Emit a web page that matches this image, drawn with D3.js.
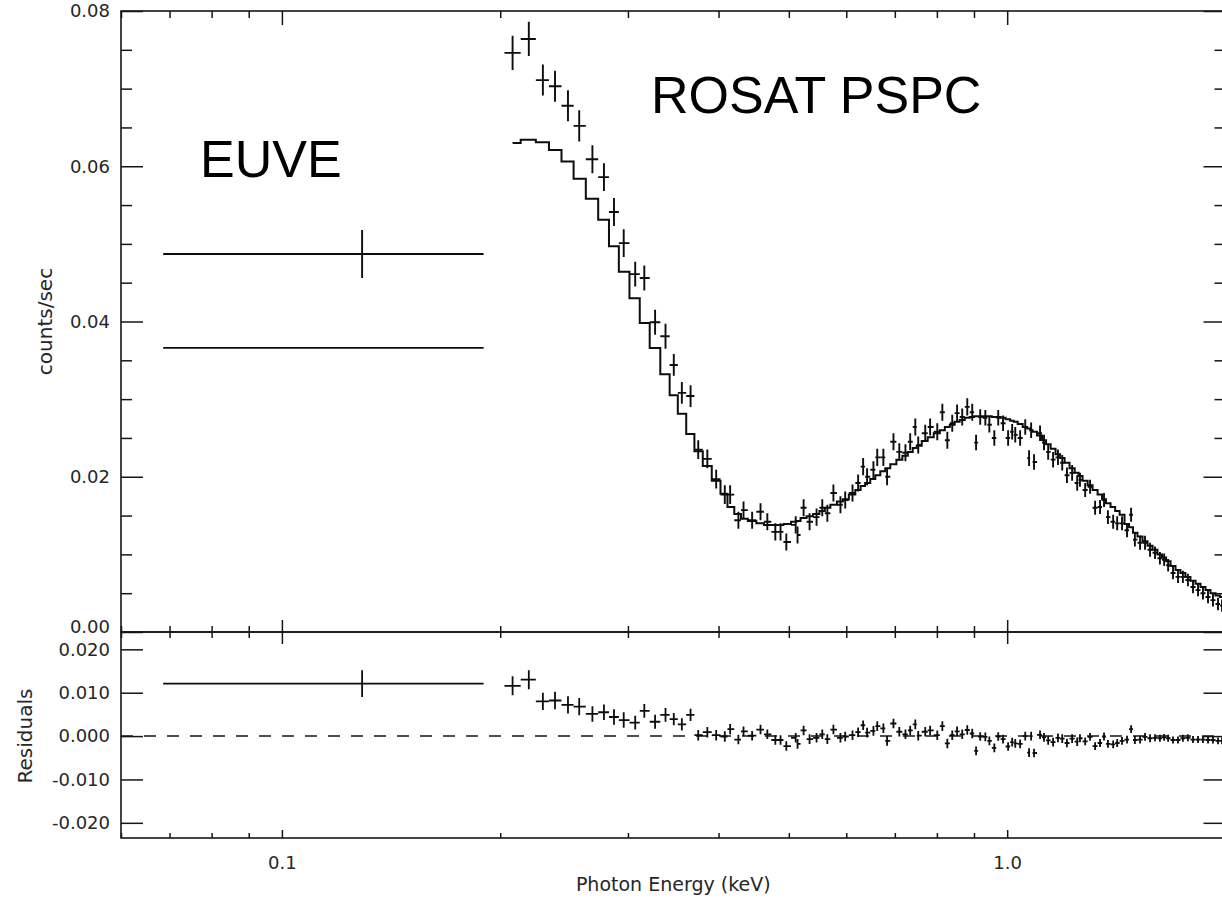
<!DOCTYPE html>
<html>
<head>
<meta charset="utf-8">
<script src="https://cdn.jsdelivr.net/npm/d3@7"></script>
<style>
  html, body { margin: 0; padding: 0; background: #fff; }
  svg { display: block; }
</style>
</head>
<body>
<svg id="chart" width="1222" height="901"></svg>
<script>
/* EUVE: one broad band */
var euveEnergy = [0.129];
var euveLo = [0.0686];
var euveHi = [0.1897];
var euveCounts = [0.0487];
var euveErr = [0.0031];
var euveModel = [0.0366];

/* ROSAT PSPC spectrum (keV, counts/sec) */
var rosatEnergy = [0.208,0.219,0.229,0.238,0.248,0.257,0.268,0.278,0.287,0.296,
  0.307,0.316,0.327,0.338,0.347,0.356,0.366,0.375,0.386,0.397,
  0.408,0.415,0.426,0.433,0.445,0.457,0.467,0.479,0.487,0.496,
  0.511,0.514,0.524,0.534,0.546,0.556,0.565,0.576,0.589,0.598,
  0.612,0.623,0.633,0.641,0.654,0.662,0.675,0.683,0.697,0.710,
  0.724,0.735,0.747,0.754,0.771,0.783,0.801,0.814,0.827,0.840,
  0.853,0.867,0.881,0.895,0.906,0.918,0.933,0.945,0.960,0.972,
  0.987,1.003,1.016,1.026,1.042,1.059,1.072,1.079,1.089,1.110,
  1.124,1.139,1.157,1.175,1.191,1.209,1.229,1.249,1.260,1.281,
  1.301,1.322,1.343,1.360,1.377,1.400,1.418,1.440,1.463,1.482,
  1.500,1.525,1.549,1.574,1.599,1.624,1.646,1.667,1.693,1.720,
  1.747,1.775,1.804,1.833,1.862,1.892,1.922,1.953,1.978];

var rosatCounts = [0.0746,0.0764,0.0711,0.0703,0.0678,0.0652,0.0609,0.0586,0.0541,0.0501,
  0.0461,0.0456,0.0399,0.0381,0.0344,0.0308,0.0304,0.0235,0.0223,0.0197,
  0.0177,0.0177,0.0144,0.0157,0.0144,0.0155,0.0142,0.0129,0.0129,0.0116,
  0.0138,0.0125,0.0160,0.0142,0.0148,0.0160,0.0153,0.0179,0.0164,0.0170,
  0.0179,0.0192,0.0213,0.0200,0.0209,0.0225,0.0225,0.0200,0.0245,0.0232,
  0.0231,0.0245,0.0264,0.0241,0.0256,0.0264,0.0258,0.0283,0.0247,0.0269,
  0.0282,0.0277,0.0290,0.0283,0.0244,0.0277,0.0276,0.0267,0.0250,0.0276,
  0.0269,0.0250,0.0258,0.0254,0.0250,0.0264,0.0224,0.0260,0.0219,0.0256,
  0.0244,0.0232,0.0222,0.0225,0.0218,0.0202,0.0205,0.0192,0.0196,0.0183,
  0.0187,0.0160,0.0161,0.0170,0.0148,0.0142,0.0140,0.0140,0.0131,0.0151,
  0.0119,0.0115,0.0115,0.0106,0.0102,0.0095,0.0093,0.0086,0.0076,0.0071,
  0.0071,0.0067,0.0058,0.0054,0.0050,0.0045,0.0041,0.0036,0.0034];

var rosatErr = [0.0022,0.0022,0.0020,0.0020,0.0020,0.0020,0.0018,0.0018,0.0018,0.0018,
  0.0016,0.0016,0.0016,0.0016,0.0014,0.0014,0.0014,0.0012,0.0012,0.0012,
  0.0012,0.0012,0.0011,0.0011,0.0011,0.0011,0.0011,0.0011,0.0011,0.0011,
  0.0011,0.0011,0.0011,0.0011,0.0011,0.0011,0.0011,0.0011,0.0011,0.0011,
  0.0011,0.0011,0.0011,0.0011,0.0011,0.0011,0.0011,0.0011,0.0011,0.0011,
  0.0011,0.0011,0.0011,0.0011,0.0011,0.0011,0.0011,0.0011,0.0011,0.0011,
  0.0011,0.0011,0.0011,0.0011,0.0010,0.0010,0.0010,0.0010,0.0010,0.0010,
  0.0010,0.0010,0.0010,0.0010,0.0010,0.0010,0.0010,0.0010,0.0010,0.0010,
  0.0010,0.0010,0.0010,0.0010,0.0010,0.0010,0.0010,0.0010,0.0009,0.0009,
  0.0009,0.0009,0.0009,0.0009,0.0009,0.0009,0.0009,0.0009,0.0009,0.0009,
  0.0009,0.0009,0.0009,0.0009,0.0008,0.0008,0.0008,0.0008,0.0008,0.0008,
  0.0008,0.0008,0.0008,0.0008,0.0008,0.0008,0.0008,0.0008,0.0008];

var rosatModel = [0.0630,0.0634,0.0631,0.0621,0.0606,0.0584,0.0558,0.0531,0.0497,0.0464,
  0.0430,0.0398,0.0366,0.0332,0.0305,0.0281,0.0255,0.0233,0.0214,0.0195,
  0.0178,0.0161,0.0152,0.0146,0.0143,0.0140,0.0138,0.0138,0.0138,0.0139,
  0.0142,0.0143,0.0147,0.0149,0.0152,0.0156,0.0160,0.0164,0.0168,0.0171,
  0.0177,0.0183,0.0188,0.0192,0.0197,0.0202,0.0207,0.0211,0.0216,0.0222,
  0.0227,0.0232,0.0237,0.0240,0.0246,0.0251,0.0256,0.0260,0.0264,0.0267,
  0.0271,0.0273,0.0276,0.0277,0.0278,0.0278,0.0278,0.0278,0.0277,0.0277,
  0.0276,0.0274,0.0272,0.0271,0.0268,0.0264,0.0262,0.0260,0.0258,0.0253,
  0.0247,0.0242,0.0236,0.0229,0.0224,0.0218,0.0211,0.0205,0.0201,0.0195,
  0.0189,0.0183,0.0177,0.0171,0.0166,0.0161,0.0156,0.0151,0.0139,0.0135,
  0.0128,0.0123,0.0117,0.0111,0.0106,0.0100,0.0096,0.0091,0.0085,0.0080,
  0.0076,0.0071,0.0066,0.0062,0.0058,0.0054,0.0050,0.0047,0.0045];

var countTicks = [0, 0.02, 0.04, 0.06, 0.08];
var residTicks = [-0.02, -0.01, 0, 0.01, 0.02];
var energyTicks = [0.1, 1.0];

var W = 1222, H = 901;
var plotLeft = 121, plotRight = 1225.5;
var topY = 11, midY = 632, botY = 838;
var INK = "#161616";
var TICK_FONT = "'DejaVu Sans', Verdana, sans-serif";
var NOTE_FONT = "'Liberation Sans', Arial, Helvetica, sans-serif";

var x = d3.scaleLog().domain([0.06, 2.0]).range([plotLeft, plotRight]);
var yTop = d3.scaleLinear().domain([0, 0.08]).range([midY, topY]);
var yRes = d3.scaleLinear().domain([-0.0235, 0.024]).range([botY, midY]);

var svg = d3.select("#chart");
svg.append("rect").attr("width", W).attr("height", H).attr("fill", "#fff");

// contiguous PSPC channels: each bin reaches halfway (in log) to its neighbours
var rosat = rosatEnergy.map(function (e, i) {
  return { e: e, c: rosatCounts[i], err: rosatErr[i], m: rosatModel[i] };
});
rosat.forEach(function (d, i) {
  var prev = rosat[i - 1], next = rosat[i + 1];
  d.hi = next ? Math.sqrt(d.e * next.e) : d.e * d.e / Math.sqrt(d.e * prev.e);
  d.lo = prev ? Math.sqrt(d.e * prev.e) : d.e * d.e / Math.sqrt(d.e * next.e);
});

var euve = euveEnergy.map(function (e, i) {
  return { e: e, lo: euveLo[i], hi: euveHi[i], c: euveCounts[i], err: euveErr[i], m: euveModel[i] };
});

function dressAxis(g) {
  g.select(".domain").remove();
  g.attr("color", INK);
  g.selectAll(".tick line").attr("stroke-width", 1.5);
  g.selectAll(".tick text")
    .attr("font-family", TICK_FONT)
    .attr("font-size", 18)
    .attr("fill", "#262626");
}

function addAxis(axis, tx, ty) {
  return svg.append("g")
    .attr("transform", "translate(" + tx + "," + ty + ")")
    .call(axis)
    .call(dressAxis);
}

var countMinor = d3.range(0.005, 0.0801, 0.005).filter(function (v) {
  return Math.abs(v / 0.02 - Math.round(v / 0.02)) > 1e-6;
});
var energyMinor = x.ticks().filter(function (v) {
  return !energyTicks.some(function (t) { return Math.abs(t - v) < 1e-9; });
});
var dashFix = function (v) { return d3.format(".3f")(v).replace("\u2212", "-"); };

// y axes, top panel
var leftTop = addAxis(d3.axisLeft(yTop).tickValues(countTicks).tickSize(-22).tickPadding(11)
  .tickFormat(d3.format(".2f")), plotLeft, 0);
leftTop.selectAll(".tick text").filter(function (d) { return d === 0; }).attr("y", -5);
addAxis(d3.axisLeft(yTop).tickValues(countMinor).tickSize(-11).tickFormat(""), plotLeft, 0);
addAxis(d3.axisRight(yTop).tickValues(countTicks).tickSize(-22).tickFormat(""), plotRight, 0);
addAxis(d3.axisRight(yTop).tickValues(countMinor).tickSize(-11).tickFormat(""), plotRight, 0);

// y axes, residual panel
addAxis(d3.axisLeft(yRes).tickValues(residTicks).tickSize(-22).tickPadding(11)
  .tickFormat(dashFix), plotLeft, 0);
addAxis(d3.axisRight(yRes).tickValues(residTicks).tickSize(-22).tickFormat(""), plotRight, 0);

// x axes: top edge, shared edge, bottom edge
addAxis(d3.axisTop(x).tickValues(energyTicks).tickSize(-14).tickFormat(""), 0, topY);
addAxis(d3.axisTop(x).tickValues(energyMinor).tickSize(-7).tickFormat(""), 0, topY);
addAxis(d3.axisBottom(x).tickValues(energyTicks).tickSize(-12).tickFormat(""), 0, midY);
addAxis(d3.axisBottom(x).tickValues(energyMinor).tickSize(-6).tickFormat(""), 0, midY);
addAxis(d3.axisTop(x).tickValues(energyTicks).tickSize(-12).tickFormat(""), 0, midY);
addAxis(d3.axisTop(x).tickValues(energyMinor).tickSize(-6).tickFormat(""), 0, midY);
addAxis(d3.axisBottom(x).tickValues(energyTicks).tickSize(-8).tickPadding(18)
  .tickFormat(d3.format(".1f")), 0, botY);
addAxis(d3.axisBottom(x).tickValues(energyMinor).tickSize(-5).tickFormat(""), 0, botY);

// panel frames
[[topY, midY], [midY, botY]].forEach(function (p) {
  svg.append("rect")
    .attr("x", plotLeft).attr("y", p[0])
    .attr("width", plotRight - plotLeft).attr("height", p[1] - p[0])
    .attr("fill", "none").attr("stroke", INK).attr("stroke-width", 1.6);
});

// zero line of residuals
svg.append("line")
  .attr("x1", plotLeft).attr("x2", plotRight)
  .attr("y1", yRes(0)).attr("y2", yRes(0))
  .attr("stroke", INK).attr("stroke-width", 1.5)
  .attr("stroke-dasharray", "12 11");

var marks = svg.append("g").attr("fill", "none").attr("stroke", "#0d0d0d");

// model: stepped over the PSPC bins
var steps = [[rosat[0].e, rosat[0].m]];
rosat.forEach(function (d, i) {
  if (i > 0) steps.push([d.lo, d.m]);
  steps.push([d.hi, d.m]);
});
marks.append("path")
  .attr("d", d3.line().x(function (d) { return x(d[0]); }).y(function (d) { return yTop(d[1]); })(steps))
  .attr("stroke-width", 2);

// EUVE model level
marks.selectAll(".euve-model").data(euve).join("line")
  .attr("class", "euve-model")
  .attr("x1", function (d) { return x(d.lo); }).attr("x2", function (d) { return x(d.hi); })
  .attr("y1", function (d) { return yTop(d.m); }).attr("y2", function (d) { return yTop(d.m); })
  .attr("stroke-width", 1.8);

function cross(y, val) {
  return function (d) {
    var v = val(d), cy = y(v);
    return "M" + x(d.lo) + "," + cy + "H" + x(d.hi) +
      "M" + x(d.e) + "," + y(v - d.err) + "V" + y(v + d.err);
  };
}
var count = function (d) { return d.c; };
var resid = function (d) { return d.c - d.m; };

marks.selectAll(".pt").data(euve.concat(rosat)).join("path")
  .attr("class", "pt").attr("d", cross(yTop, count)).attr("stroke-width", 1.9);
marks.selectAll(".res").data(euve.concat(rosat)).join("path")
  .attr("class", "res").attr("d", cross(yRes, resid)).attr("stroke-width", 1.8);

// axis titles
svg.append("text")
  .attr("transform", "translate(52," + ((topY + midY) / 2) + ") rotate(-90)")
  .attr("text-anchor", "middle")
  .attr("font-family", TICK_FONT).attr("font-size", 20).attr("fill", "#262626")
  .text("counts/sec");
svg.append("text")
  .attr("transform", "translate(32," + yRes(0) + ") rotate(-90)")
  .attr("text-anchor", "middle")
  .attr("font-family", TICK_FONT).attr("font-size", 20).attr("fill", "#262626")
  .text("Residuals");
svg.append("text")
  .attr("x", (plotLeft + plotRight) / 2).attr("y", 891)
  .attr("text-anchor", "middle")
  .attr("font-family", TICK_FONT).attr("font-size", 19).attr("fill", "#262626")
  .text("Photon Energy (keV)");

// instrument notes
svg.append("text").attr("x", 200).attr("y", 177)
  .attr("font-family", NOTE_FONT).attr("font-size", 52).attr("fill", "#000")
  .text("EUVE");
svg.append("text").attr("x", 651).attr("y", 113)
  .attr("font-family", NOTE_FONT).attr("font-size", 52).attr("fill", "#000")
  .text("ROSAT PSPC");
</script>
</body>
</html>
